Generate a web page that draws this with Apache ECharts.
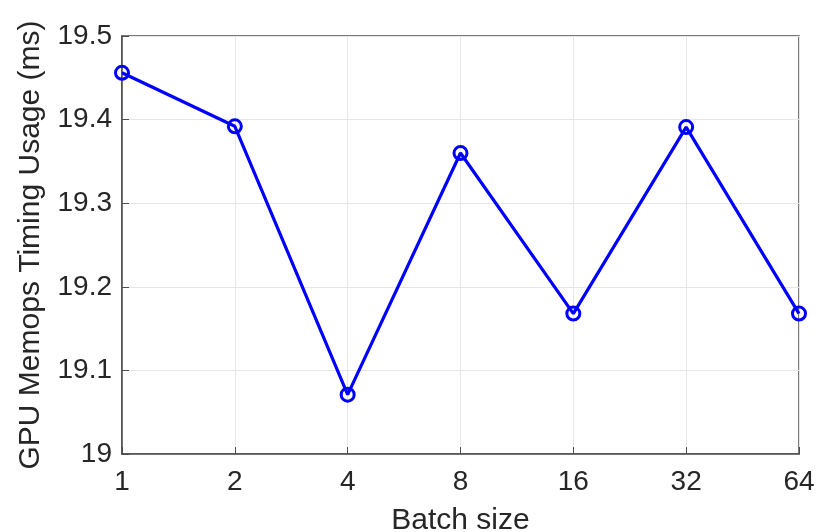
<!DOCTYPE html>
<html>
<head>
<meta charset="utf-8">
<script src="https://cdn.jsdelivr.net/npm/echarts@6/dist/echarts.min.js"></script>
<style>
  html, body {margin: 0; padding: 0; background: #fff;}
  #chart {width: 818px; height: 532px;}
</style>
</head>
<body>
<div id="chart"></div>
<script>
// batch sizes on the x axis (equally spaced, log2 steps)
const batchSizes = ["1", "2", "4", "8", "16", "32", "64"];
// GPU memops timing in ms
const timingMs = [19.456, 19.392, 19.071, 19.360, 19.168, 19.391, 19.168];

const fontFamily = "Liberation Sans, Helvetica, Arial, sans-serif";
const axisGray = "#4d4d4d";
const textColor = "#262626";

const chart = echarts.init(document.getElementById("chart"));
chart.setOption({
  animation: false,
  grid: {
    left: 122, top: 36, width: 677, height: 418,
    outerBoundsMode: "none",
    containLabel: false,
    show: true, borderColor: axisGray, borderWidth: 1.5, backgroundColor: "#fff",
  },
  xAxis: {
    type: "category",
    data: batchSizes,
    boundaryGap: false,
    name: "Batch size",
    nameLocation: "middle",
    nameGap: 52,
    nameTextStyle: {fontFamily: fontFamily, fontSize: 30, color: textColor},
    axisLine: {lineStyle: {color: axisGray, width: 1.5}},
    axisTick: {inside: true, length: 7, alignWithLabel: true, lineStyle: {color: axisGray}},
    axisLabel: {fontFamily: fontFamily, fontSize: 28, color: textColor, margin: 14},
    splitLine: {show: true, lineStyle: {color: "#e6e6e6", width: 1}},
  },
  yAxis: {
    type: "value",
    min: 19,
    max: 19.5,
    interval: 0.1,
    name: "GPU Memops Timing Usage (ms)",
    nameLocation: "middle",
    nameGap: 76,
    nameTextStyle: {fontFamily: fontFamily, fontSize: 30, color: textColor},
    axisLine: {show: true, lineStyle: {color: axisGray, width: 1.5}},
    axisTick: {show: true, inside: true, length: 7, lineStyle: {color: axisGray}},
    axisLabel: {fontFamily: fontFamily, fontSize: 28, color: textColor, margin: 10},
    splitLine: {show: true, lineStyle: {color: "#e6e6e6", width: 1}},
  },
  series: [{
    type: "line",
    data: timingMs,
    symbol: "circle",
    symbolSize: 13,
    showAllSymbol: true,
    lineStyle: {color: "#0000ff", width: 3.2},
    itemStyle: {color: "transparent", borderColor: "#0000ff", borderWidth: 3},
    z: 5,
  }],
});
</script>
</body>
</html>
